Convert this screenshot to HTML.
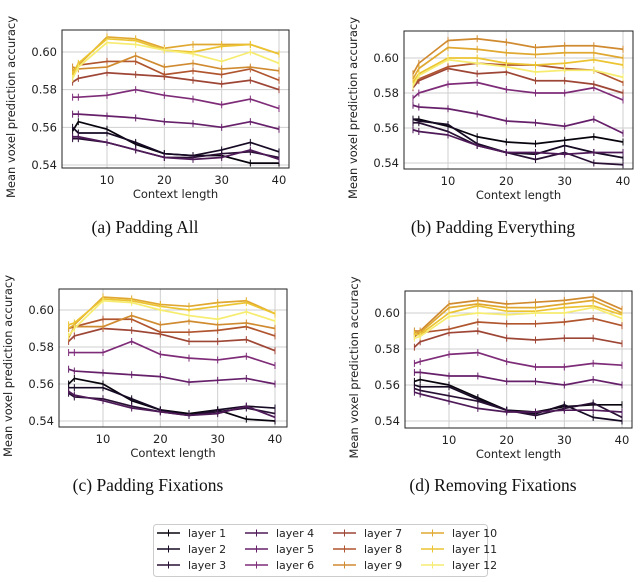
<!DOCTYPE html>
<html><head><meta charset="utf-8"><style>
body{margin:0;background:#fff;width:640px;height:582px;overflow:hidden}
svg{display:block}
</style></head><body>
<svg id="chart" width="640" height="582" xmlns="http://www.w3.org/2000/svg" font-family="DejaVu Sans, Liberation Sans, sans-serif"></svg>
<script>
const xValues = [4,5,10,15,20,25,30,35,40];
const yTicks = [0.54,0.56,0.58,0.60];
const xTicks = [10,20,30,40];
const layerNames = ["layer 1","layer 2","layer 3","layer 4","layer 5","layer 6","layer 7","layer 8","layer 9","layer 10","layer 11","layer 12"];
const captions = ["(a) Padding All","(b) Padding Everything","(c) Padding Fixations","(d) Removing Fixations"];
const seriesA = [
[0.558,0.563,0.559,0.551,0.546,0.545,0.545,0.541,0.541],
[0.560,0.557,0.557,0.552,0.546,0.545,0.548,0.552,0.547],
[0.554,0.554,0.552,0.548,0.544,0.544,0.546,0.547,0.544],
[0.555,0.555,0.552,0.548,0.544,0.543,0.544,0.548,0.543],
[0.567,0.567,0.566,0.565,0.563,0.562,0.560,0.563,0.559],
[0.576,0.576,0.577,0.580,0.577,0.575,0.572,0.575,0.570],
[0.584,0.586,0.589,0.588,0.587,0.585,0.583,0.585,0.580],
[0.588,0.593,0.595,0.595,0.588,0.590,0.588,0.591,0.585],
[0.592,0.591,0.592,0.598,0.592,0.594,0.591,0.592,0.590],
[0.590,0.593,0.608,0.607,0.602,0.604,0.604,0.604,0.599],
[0.588,0.594,0.607,0.606,0.601,0.600,0.603,0.604,0.599],
[0.586,0.592,0.605,0.604,0.601,0.599,0.595,0.600,0.594]];
const seriesB = [
[0.565,0.565,0.561,0.555,0.552,0.551,0.553,0.555,0.552],
[0.565,0.564,0.562,0.551,0.546,0.545,0.550,0.546,0.543],
[0.563,0.563,0.558,0.550,0.546,0.542,0.546,0.540,0.539],
[0.559,0.558,0.556,0.550,0.546,0.546,0.545,0.546,0.546],
[0.573,0.572,0.571,0.568,0.564,0.563,0.561,0.565,0.557],
[0.577,0.580,0.585,0.586,0.582,0.580,0.580,0.583,0.576],
[0.583,0.587,0.594,0.591,0.592,0.587,0.587,0.585,0.580],
[0.585,0.588,0.595,0.597,0.596,0.596,0.594,0.593,0.586],
[0.591,0.597,0.610,0.611,0.609,0.606,0.607,0.607,0.605],
[0.588,0.594,0.606,0.605,0.603,0.602,0.603,0.603,0.600],
[0.586,0.591,0.600,0.600,0.597,0.596,0.597,0.599,0.596],
[0.584,0.590,0.599,0.597,0.595,0.592,0.593,0.593,0.589]];
const seriesC = [
[0.560,0.563,0.560,0.551,0.546,0.544,0.546,0.541,0.540],
[0.558,0.558,0.558,0.552,0.546,0.543,0.546,0.548,0.547],
[0.555,0.553,0.552,0.548,0.545,0.543,0.545,0.547,0.544],
[0.556,0.554,0.551,0.547,0.545,0.543,0.544,0.548,0.542],
[0.568,0.567,0.566,0.565,0.564,0.561,0.562,0.563,0.560],
[0.577,0.577,0.577,0.583,0.576,0.574,0.573,0.575,0.570],
[0.583,0.586,0.590,0.589,0.587,0.583,0.583,0.584,0.578],
[0.590,0.591,0.595,0.595,0.588,0.588,0.589,0.591,0.586],
[0.585,0.591,0.591,0.597,0.592,0.594,0.592,0.593,0.590],
[0.590,0.592,0.607,0.606,0.603,0.602,0.604,0.605,0.598],
[0.592,0.593,0.606,0.605,0.602,0.600,0.602,0.604,0.598],
[0.586,0.590,0.605,0.604,0.600,0.597,0.595,0.599,0.594]];
const seriesD = [
[0.562,0.563,0.560,0.553,0.546,0.545,0.548,0.549,0.549],
[0.560,0.559,0.559,0.552,0.546,0.544,0.549,0.542,0.540],
[0.558,0.557,0.554,0.551,0.546,0.543,0.547,0.550,0.542],
[0.556,0.555,0.551,0.547,0.545,0.545,0.546,0.546,0.545],
[0.567,0.567,0.565,0.565,0.562,0.562,0.560,0.563,0.560],
[0.572,0.573,0.577,0.578,0.573,0.570,0.570,0.572,0.571],
[0.581,0.584,0.589,0.590,0.586,0.585,0.586,0.586,0.583],
[0.587,0.589,0.591,0.595,0.594,0.594,0.595,0.597,0.593],
[0.590,0.590,0.605,0.607,0.605,0.606,0.607,0.609,0.602],
[0.589,0.589,0.603,0.605,0.603,0.603,0.605,0.607,0.600],
[0.588,0.588,0.600,0.604,0.601,0.601,0.603,0.604,0.599],
[0.586,0.587,0.598,0.600,0.599,0.600,0.600,0.603,0.597]];
const allSeries = [seriesA, seriesB, seriesC, seriesD];
const colors = ["#08040e","#160a24","#281034","#4e1a58","#66206a","#7e2c78","#9e4636","#b0552e","#d08a30","#e0a830","#ecc432","#f6ec70"];
const panels = [
 {box:[62,30,289,168], x10:107,x40:279, y60:52,y54:165, cap:[145,233]},
 {box:[404,31,633,169], x10:448,x40:623, y60:58,y54:163, cap:[493,233]},
 {box:[59,289,287,427], x10:103,x40:275, y60:310,y54:421, cap:[148,491]},
 {box:[405,291,632,428], x10:449,x40:622, y60:313,y54:421, cap:[493,491]}];
const NS="http://www.w3.org/2000/svg";
const svg=document.getElementById('chart');
function mk(tag,attrs,parent,text){const e=document.createElementNS(NS,tag);for(const k in attrs)e.setAttribute(k,attrs[k]);if(text!==undefined)e.textContent=text;(parent||svg).appendChild(e);return e;}
panels.forEach((p,pi)=>{
 const g=mk('g',{});
 
 
 const sx=v=>p.x10+(v-10)*(p.x40-p.x10)/30;
 const sy=v=>p.y54+(v-0.54)*(p.y60-p.y54)/0.06;
 const [x0,y0,x1,y1]=p.box;
 xTicks.forEach(t=>{mk('line',{x1:sx(t),x2:sx(t),y1:y0,y2:y1,stroke:'#cfcfcf','stroke-width':1},g);
  const tl=mk('text',{x:sx(t),y:y1+16,'font-size':11.5,'text-anchor':'middle',fill:'#222'},g,String(t));
  
  });
 yTicks.forEach(t=>{mk('line',{x1:x0,x2:x1,y1:sy(t),y2:sy(t),stroke:'#cfcfcf','stroke-width':1},g);
  const tl=mk('text',{x:x0-5,y:sy(t)+4,'font-size':11.5,'text-anchor':'end',fill:'#222'},g,t.toFixed(2));
  
  });
 allSeries[pi].forEach((s,li)=>{
  const pts=s.map((v,i)=>sx(xValues[i])+','+sy(v)).join(' ');
  const pl=mk('polyline',{points:pts,fill:'none',stroke:colors[li],'stroke-width':1.7,'stroke-linejoin':'round'},g);
  
  
  s.forEach((v,i)=>{mk('line',{x1:sx(xValues[i]),x2:sx(xValues[i]),y1:sy(v)-3.5,y2:sy(v)+3.5,stroke:colors[li],'stroke-width':1},g);});
 });
 const fr=mk('rect',{x:x0,y:y0,width:x1-x0,height:y1-y0,fill:'none',stroke:'#222','stroke-width':1},g);
 
 
 const xl=mk('text',{x:(x0+x1)/2,y:y1+30,'font-size':11.5,'text-anchor':'middle',fill:'#222'},g,'Context length');
 
 
 const yx=x0-47, yc=(y0+y1)/2+8;
 const yl=mk('text',{x:yx,y:yc,'font-size':11.5,'text-anchor':'middle',fill:'#222',transform:`rotate(-90 ${yx} ${yc})`},g,'Mean voxel prediction accuracy');
 
 
 const cp=mk('text',{x:p.cap[0],y:p.cap[1],'font-size':17.5,'text-anchor':'middle',fill:'#111','font-family':'Liberation Serif, serif'},g,captions[pi]);
 
 
});
const lg=mk('g',{});


mk('rect',{x:153.5,y:524.5,width:334,height:52,rx:3,fill:'#fff',stroke:'#ccc'},lg);
layerNames.forEach((n,i)=>{
 const col=Math.floor(i/3),row=i%3;
 const lx=157+col*88, ly=533+row*16;
 const e=mk('g',{},lg);
 
 
 mk('line',{x1:lx,x2:lx+23,y1:ly,y2:ly,stroke:colors[i],'stroke-width':1.5},e);
 mk('line',{x1:lx+11.5,x2:lx+11.5,y1:ly-3.5,y2:ly+3.5,stroke:colors[i],'stroke-width':1},e);
 mk('text',{x:lx+31,y:ly+4,'font-size':11,fill:'#222'},e,n);
});
</script>
</body></html>
